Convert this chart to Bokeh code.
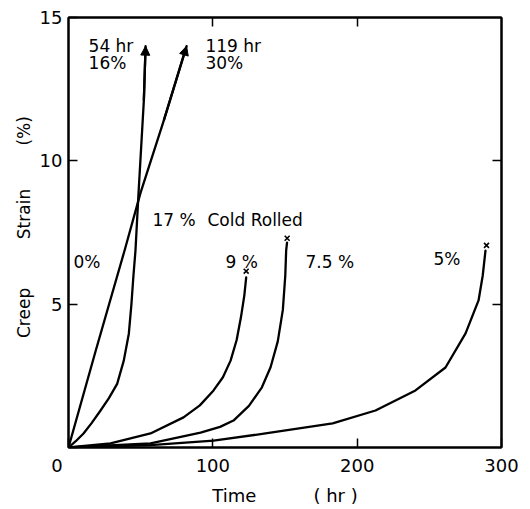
from bokeh.plotting import figure
from bokeh.models import (Range1d, FixedTicker, LinearAxis, Label, Arrow, NormalHead)
from bokeh.embed import file_html
from bokeh.resources import INLINE

# ---- data ----
x_0pct = [0, 19, 39, 50, 66, 81.8]
y_0pct = [0, 3.4, 6.9, 8.9, 11.4, 14.0]

x_17pct = [0, 5, 10.4, 16, 22.2, 28, 33.7, 38.3, 41.8, 43.6, 45.0, 46.4, 48.5, 52.2, 53.4]
y_17pct = [0, 0.22, 0.49, 0.85, 1.29, 1.72, 2.22, 3.03, 3.97, 5.0, 6.0, 6.87, 8.86, 12.1, 14.0]

x_9pct = [0, 29.1, 56.8, 79.7, 91, 100.5, 107, 112.3, 116.5, 119.5, 121.8, 123.1]
y_9pct = [0, 0.14, 0.49, 1.05, 1.47, 1.99, 2.45, 3.03, 3.75, 4.55, 5.3, 5.93]

x_75pct = [0, 56.8, 91.5, 105, 114.3, 125, 134, 140, 145, 148.5, 150.2, 150.8, 151.4]
y_75pct = [0, 0.14, 0.52, 0.72, 0.94, 1.45, 2.1, 2.8, 3.7, 4.8, 6.0, 6.87, 7.15]

x_5pct = [0, 56.8, 100.5, 136.5, 183, 212.7, 240.4, 261.2, 275.1, 284.1, 287.0, 288.9]
y_5pct = [0, 0.08, 0.24, 0.49, 0.84, 1.29, 1.99, 2.79, 3.98, 5.13, 6.0, 6.87]

rupture_x = [123.1, 151.5, 289.6]
rupture_y = [6.15, 7.3, 7.05]

x_ticks = [0, 100, 200, 300]
y_ticks = [0, 5, 10, 15]

FONT = "DejaVu Sans"
NB = "\u00a0"

p = figure(width=521, height=509, output_backend="svg", toolbar_location=None,
           x_range=Range1d(0, 300), y_range=Range1d(0, 15),
           min_border_left=68, min_border_right=20, min_border_top=17, min_border_bottom=62)
p.xgrid.grid_line_color = None
p.ygrid.grid_line_color = None
p.outline_line_color = "black"
p.outline_line_width = 2
p.background_fill_color = "white"
p.border_fill_color = "white"

def style_axis(ax, ticks, overrides=None, labels=True):
    ax.ticker = FixedTicker(ticks=ticks)
    ax.axis_line_color = "black"
    ax.axis_line_width = 2
    ax.major_tick_in = 9
    ax.major_tick_out = 0
    ax.major_tick_line_width = 1.5
    ax.major_tick_line_color = "black"
    ax.minor_tick_line_color = None
    if labels:
        ax.major_label_text_font = FONT
        ax.major_label_text_font_size = "18px"
        ax.major_label_text_color = "black"
        if overrides:
            ax.major_label_overrides = overrides
    else:
        ax.major_label_text_font_size = "0px"
        ax.major_label_standoff = 0

# corner "0" is drawn by the x axis, shifted left with trailing no-break spaces
style_axis(p.xaxis[0], x_ticks, {0: "0" + NB * 4})
p.xaxis[0].major_label_standoff = 7
p.xaxis[0].axis_label = "Time" + NB * 10 + "( hr )"
p.xaxis[0].axis_label_text_font = FONT
p.xaxis[0].axis_label_text_font_size = "18px"
p.xaxis[0].axis_label_text_font_style = "normal"
p.xaxis[0].axis_label_text_color = "black"
p.xaxis[0].axis_label_standoff = 6

style_axis(p.yaxis[0], y_ticks, {0: ""})
p.yaxis[0].major_label_standoff = 6
p.yaxis[0].major_label_orientation = "horizontal"
p.yaxis[0].axis_label = NB * 2 + "Creep" + NB * 9 + "Strain" + NB * 8 + "(%)"
p.yaxis[0].axis_label_text_font = FONT
p.yaxis[0].axis_label_text_font_size = "17px"
p.yaxis[0].axis_label_text_font_style = "normal"
p.yaxis[0].axis_label_text_color = "black"
p.yaxis[0].axis_label_standoff = 3

top = LinearAxis()
style_axis(top, [100, 200], labels=False)
p.add_layout(top, "above")
right = LinearAxis()
style_axis(right, [5, 10], labels=False)
p.add_layout(right, "right")

LW = 2.3
for xs, ys in [(x_0pct, y_0pct), (x_17pct, y_17pct), (x_9pct, y_9pct),
               (x_75pct, y_75pct), (x_5pct, y_5pct)]:
    p.line(xs, ys, line_color="black", line_width=LW, line_join="round", line_cap="round")

for xs, ys in [(x_0pct, y_0pct), (x_17pct, y_17pct)]:
    p.add_layout(Arrow(end=NormalHead(size=9, fill_color="black", line_color="black", line_width=1),
                       x_start=xs[-2], y_start=ys[-2], x_end=xs[-1], y_end=ys[-1],
                       line_color="black", line_width=LW))

p.scatter(rupture_x, rupture_y, marker="x", size=7, line_color="black", line_width=1.6)

def lab(txt, x, y, size="17px", align="left"):
    p.add_layout(Label(x=x, y=y, text=txt, text_font=FONT, text_font_size=size,
                       text_color="black", text_align=align, text_baseline="middle"))

lab("54 hr", 13.9, 13.99)
lab("16%", 13.9, 13.41)
lab("119 hr", 94.9, 13.99)
lab("30%", 94.9, 13.41)
lab("0%", 3.5, 6.47)
lab("17 %", 58.2, 7.92)
lab("Cold Rolled", 96.3, 7.92)
lab("9 %", 108.8, 6.47)
lab("7.5 %", 164.2, 6.47)
lab("5%", 252.9, 6.59)

open("out.html", "w").write(file_html(p, INLINE))
